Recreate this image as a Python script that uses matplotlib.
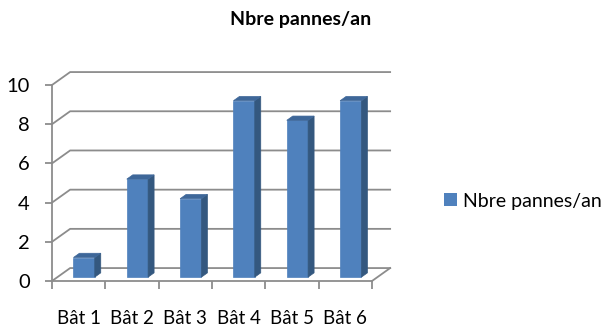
import matplotlib
matplotlib.use("Agg")
from matplotlib import pyplot as plt
from matplotlib.patches import Polygon, Patch

plt.rcParams['font.family'] = ['Lato', 'DejaVu Sans']

categories = ["Bât 1", "Bât 2", "Bât 3", "Bât 4", "Bât 5", "Bât 6"]
pannes = [1, 5, 4, 9, 8, 9]
series_name = "Nbre pannes/an"
y_ticks = [0, 2, 4, 6, 8, 10]

FRONT = "#4f81bd"
SIDE = "#34587f"
TOP = "#3e6799"
GRID = "#8c8c8c"

# oblique depth of the floor/walls, in data units
DX, DY = 0.34, 0.66
# bar sits between these depth fractions
D0, D1 = 0.30, 0.63
BAR_W = 0.40

fig = plt.figure(figsize=(6.03, 3.28), dpi=100)
ax = fig.add_axes([52 / 603, 47 / 328, 320 / 603, 196 / 328])
n = len(categories)
ax.set_xlim(0, n)
ax.set_ylim(0, 10)

for s in ["top", "right"]:
    ax.spines[s].set_visible(False)
for s in ["left", "bottom"]:
    ax.spines[s].set_color(GRID)
    ax.spines[s].set_linewidth(1.3)

# value axis
ax.set_yticks(y_ticks)
ax.tick_params(axis="y", length=5, width=1.3, color=GRID, labelsize=14.5, pad=11)

# category axis: boundary ticks, labels centred in between
ax.set_xticks(range(n + 1))
ax.set_xticklabels([])
ax.set_xticks([i + 0.5 for i in range(n)], minor=True)
ax.set_xticklabels(categories, minor=True)
ax.tick_params(axis="x", which="major", length=6, width=1.3, color=GRID)
ax.tick_params(axis="x", which="minor", length=0, labelsize=13.5, pad=21)

# back wall gridlines and floor
for v in y_ticks:
    ax.plot([0, DX, n + DX], [v, v + DY, v + DY], color=GRID, lw=1.3,
            clip_on=False, zorder=1)
ax.plot([n, n + DX], [0, DY], color=GRID, lw=1.3, clip_on=False, zorder=1)

# 3d-looking bars
for i, v in enumerate(pannes):
    x0 = i + 0.5 - BAR_W / 2 + D0 * DX
    x1 = x0 + BAR_W
    yb = D0 * DY
    yt = v + D0 * DY
    ddx = (D1 - D0) * DX
    ddy = (D1 - D0) * DY
    front = [(x0, yb), (x1, yb), (x1, yt), (x0, yt)]
    side = [(x1, yb), (x1 + ddx, yb + ddy), (x1 + ddx, yt + ddy), (x1, yt)]
    top = [(x0, yt), (x1, yt), (x1 + ddx, yt + ddy), (x0 + ddx, yt + ddy)]
    for pts, c in [(front, FRONT), (side, SIDE), (top, TOP)]:
        ax.add_patch(Polygon(pts, closed=True, facecolor=c, edgecolor=c,
                             lw=0.5, clip_on=False, zorder=3))

fig.text(301 / 603, 1 - 19 / 328, series_name, ha="center", va="center",
         fontsize=14, fontweight="bold")

fig.legend(handles=[Patch(facecolor=FRONT, label=series_name)],
           loc="center left", bbox_to_anchor=(444 / 603, 1 - 201 / 328),
           frameon=False, fontsize=14, handlelength=0.65, handleheight=0.65,
           handletextpad=0.35, borderpad=0, borderaxespad=0)

fig.savefig("out.png", dpi=100)
